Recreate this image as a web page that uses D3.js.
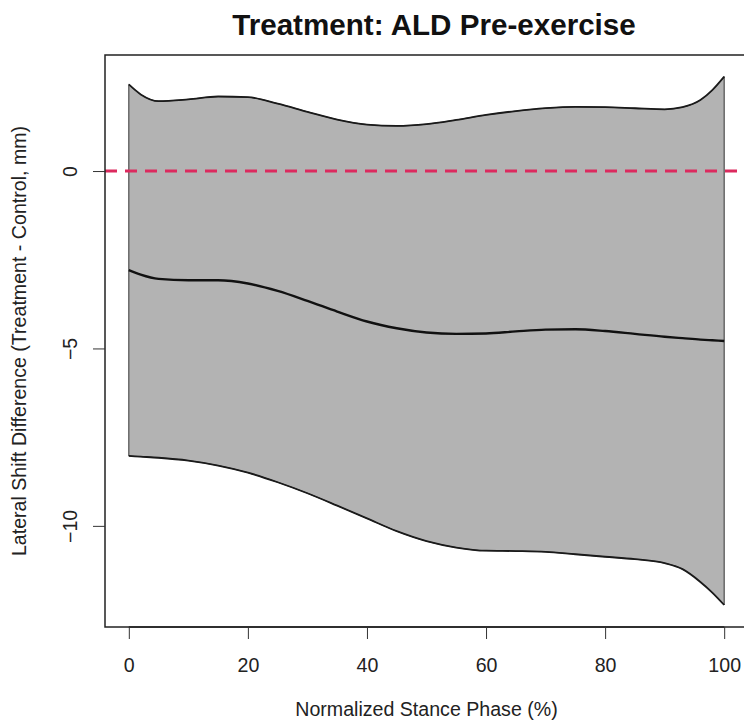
<!DOCTYPE html>
<html>
<head>
<meta charset="utf-8">
<script src="https://cdn.jsdelivr.net/npm/d3@7"></script>
<style>
  html, body { margin: 0; padding: 0; background: #ffffff; }
  svg { display: block; font-family: "Liberation Sans", Arial, Helvetica, sans-serif; }
</style>
</head>
<body>
<svg id="chart" width="744" height="726"></svg>
<script>
// ---- data ----
const title = "Treatment: ALD Pre-exercise";
const xLabel = "Normalized Stance Phase (%)";
const yLabel = "Lateral Shift Difference (Treatment - Control, mm)";
const xTicks = [0, 20, 40, 60, 80, 100];
const yTicks = [0, -5, -10];
const phase = [0, 2, 5, 10, 15, 20, 25, 30, 35, 40, 45, 50, 55, 60, 65, 70, 75, 80, 85, 90, 93, 96, 98, 100];
const upper = [2.44, 2.16, 1.97, 2.02, 2.10, 2.08, 1.90, 1.67, 1.45, 1.31, 1.27, 1.32, 1.44, 1.58, 1.69, 1.77, 1.81, 1.80, 1.77, 1.74, 1.80, 2.00, 2.28, 2.66];
const meanDiff = [-2.79, -2.92, -3.04, -3.08, -3.08, -3.17, -3.38, -3.66, -3.96, -4.24, -4.43, -4.55, -4.59, -4.58, -4.52, -4.47, -4.46, -4.51, -4.59, -4.67, -4.71, -4.75, -4.77, -4.79];
const lower = [-8.03, -8.05, -8.08, -8.16, -8.30, -8.50, -8.77, -9.08, -9.43, -9.79, -10.15, -10.43, -10.61, -10.70, -10.71, -10.73, -10.80, -10.87, -10.94, -11.05, -11.22, -11.58, -11.88, -12.23];
const refLine = 0;

// ---- layout ----
const svg = d3.select("#chart");
const plot = { left: 105, right: 748, top: 55, bottom: 627 };
const axisFont = 19.6;

const x = d3.scaleLinear().domain([-4, 104]).range([plot.left, plot.right]);
const y = d3.scaleLinear().domain([-12.85, 3.27]).range([plot.bottom, plot.top]);

const rows = phase.map((p, i) => ({ p, u: upper[i], m: meanDiff[i], l: lower[i] }));

// band
const area = d3.area()
  .x(d => x(d.p))
  .y0(d => y(d.l))
  .y1(d => y(d.u))
  .curve(d3.curveMonotoneX);

svg.append("path")
  .datum(rows)
  .attr("d", area)
  .attr("fill", "#b3b3b3")
  .attr("stroke", "#333")
  .attr("stroke-width", 1);

const lineU = d3.line().x(d => x(d.p)).y(d => y(d.u)).curve(d3.curveMonotoneX);
const lineL = d3.line().x(d => x(d.p)).y(d => y(d.l)).curve(d3.curveMonotoneX);
const lineM = d3.line().x(d => x(d.p)).y(d => y(d.m)).curve(d3.curveMonotoneX);

svg.append("path").datum(rows).attr("d", lineU)
  .attr("fill", "none").attr("stroke", "#1a1a1a").attr("stroke-width", 1.8);
svg.append("path").datum(rows).attr("d", lineL)
  .attr("fill", "none").attr("stroke", "#1a1a1a").attr("stroke-width", 1.8);
svg.append("path").datum(rows).attr("d", lineM)
  .attr("fill", "none").attr("stroke", "#111").attr("stroke-width", 2.4);

// reference dashed line
svg.append("line")
  .attr("x1", plot.left).attr("x2", plot.right)
  .attr("y1", y(refLine)).attr("y2", y(refLine))
  .attr("stroke", "#dc2a5e")
  .attr("stroke-width", 3)
  .attr("stroke-dasharray", "12,8");

// box
svg.append("rect")
  .attr("x", plot.left).attr("y", plot.top)
  .attr("width", plot.right - plot.left).attr("height", plot.bottom - plot.top)
  .attr("fill", "none").attr("stroke", "#222").attr("stroke-width", 1.5);

// x axis
const xAxis = svg.append("g")
  .attr("transform", `translate(0,${plot.bottom})`)
  .call(d3.axisBottom(x).tickValues(xTicks).tickSize(12).tickPadding(19).tickSizeOuter(0));
xAxis.select(".domain").attr("d", `M${x(xTicks[0])},0H${x(xTicks[xTicks.length - 1])}`)
  .attr("stroke", "#222").attr("stroke-width", 1.5);
xAxis.selectAll(".tick line").attr("stroke", "#333").attr("stroke-width", 1);
xAxis.selectAll(".tick text")
  .attr("font-size", axisFont).attr("fill", "#222")
  .attr("font-family", "Liberation Sans, Arial, sans-serif");

// y axis
const yAxis = svg.append("g")
  .attr("transform", `translate(${plot.left},0)`)
  .call(d3.axisLeft(y).tickValues(yTicks).tickSize(12).tickSizeOuter(0));
yAxis.select(".domain").remove();
yAxis.selectAll(".tick line").attr("stroke", "#333").attr("stroke-width", 1);
yAxis.selectAll(".tick text")
  .attr("x", null).attr("dy", null)
  .attr("text-anchor", "middle")
  .attr("transform", "translate(-28,0) rotate(-90)")
  .attr("font-size", axisFont).attr("fill", "#222")
  .attr("font-family", "Liberation Sans, Arial, sans-serif");

// title
svg.append("text")
  .attr("x", 434)
  .attr("y", 35)
  .attr("text-anchor", "middle")
  .attr("font-size", 29.6)
  .attr("font-weight", "bold")
  .attr("fill", "#111")
  .text(title);

// axis labels
svg.append("text")
  .attr("x", (plot.left + plot.right) / 2)
  .attr("y", 716)
  .attr("text-anchor", "middle")
  .attr("font-size", axisFont)
  .attr("fill", "#222")
  .text(xLabel);

svg.append("text")
  .attr("transform", `translate(26,${(plot.top + plot.bottom) / 2}) rotate(-90)`)
  .attr("text-anchor", "middle")
  .attr("font-size", axisFont)
  .attr("fill", "#222")
  .text(yLabel);
</script>
</body>
</html>
